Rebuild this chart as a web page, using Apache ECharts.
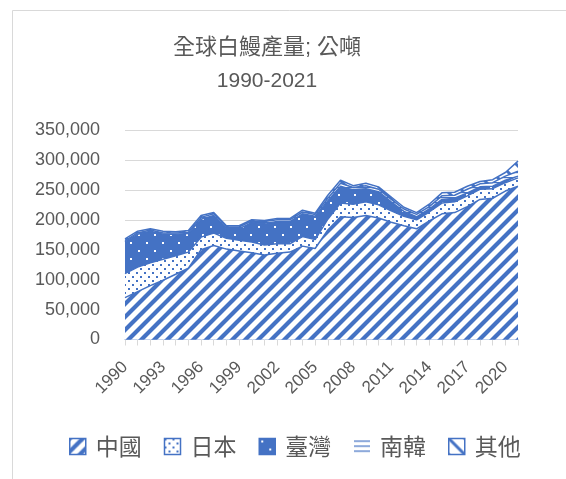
<!DOCTYPE html>
<html>
<head>
<meta charset="utf-8">
<script src="https://cdn.jsdelivr.net/npm/echarts@6/dist/echarts.min.js"></script>
<style>
  html, body { margin: 0; padding: 0; background: #fff; }
  #container { width: 566px; height: 479px; }
</style>
</head>
<body>
<div id="container"></div>
<script>
// 年份
var years = ['1990','1991','1992','1993','1994','1995','1996','1997','1998','1999',
  '2000','2001','2002','2003','2004','2005','2006','2007','2008','2009',
  '2010','2011','2012','2013','2014','2015','2016','2017','2018','2019','2020','2021'];

// 各國產量 (公噸)
var china = [70000,80000,90000,99000,109000,119000,150000,157000,151000,148000,
  145000,141000,144000,146000,156000,152000,183000,205000,204000,207000,
  203000,196000,190000,185000,198000,210000,212000,222000,234000,236000,248000,256000];
var japan = [40000,41000,38000,35000,31000,27000,21000,21000,18000,18000,
  18000,17000,16000,14000,16000,15000,18000,23000,22000,23000,
  22000,19000,16000,15000,15000,18000,18000,18000,17000,16000,14000,14000];
var taiwan = [53000,55000,53000,42000,36000,31000,30000,29000,16000,19000,
  32000,36000,37000,37000,38000,39000,31000,28000,24000,22000,
  22000,15000,8000,5000,5000,6000,6000,5000,4000,4000,4000,3000];
var korea = [2000,2000,2000,2000,2000,2000,3000,3000,3000,3000,
  3000,3000,3000,3000,3000,3000,4000,5000,4000,5000,
  4000,4000,4000,4000,4000,6000,5000,6000,5000,6000,7000,8000];
var other = [3000,3000,2000,3000,2000,3000,3000,2000,2000,2000,
  2000,2000,2000,2000,3000,2000,5000,5000,3000,4000,
  4000,4000,3000,3000,4000,5000,5000,5000,4000,5000,6000,17000];

var names = ['中國', '日本', '臺灣', '南韓', '其他'];
var BLUE = '#4472C4';

// 用 canvas 畫填充圖樣
function makePattern(size, bg, draw) {
    var c = document.createElement('canvas');
    c.width = size;
    c.height = size;
    var ctx = c.getContext('2d');
    ctx.fillStyle = bg;
    ctx.fillRect(0, 0, size, size);
    ctx.fillStyle = BLUE;
    ctx.strokeStyle = BLUE;
    draw(ctx, size);
    return { image: c, repeat: 'repeat' };
}

function diagUp(ctx, s, w) {
    ctx.lineWidth = w;
    ctx.beginPath();
    ctx.moveTo(-s, s); ctx.lineTo(s, -s);
    ctx.moveTo(0, s); ctx.lineTo(s, 0);
    ctx.moveTo(0, 2 * s); ctx.lineTo(2 * s, 0);
    ctx.stroke();
}
function diagDown(ctx, s, w) {
    ctx.lineWidth = w;
    ctx.beginPath();
    ctx.moveTo(-s, 0); ctx.lineTo(s, 2 * s);
    ctx.moveTo(0, 0); ctx.lineTo(s, s);
    ctx.moveTo(0, -s); ctx.lineTo(2 * s, s);
    ctx.stroke();
}

var patterns = [
    // 中國: 寬斜線
    makePattern(13, '#fff', function (ctx, s) { diagUp(ctx, s, 4.2); }),
    // 日本: 小點
    makePattern(8, '#fff', function (ctx, s) {
        ctx.fillRect(0, 0, 2, 2);
        ctx.fillRect(4, 4, 2, 2);
    }),
    // 臺灣: 藍底白點
    makePattern(16, BLUE, function (ctx, s) {
        ctx.fillStyle = '#fff';
        ctx.fillRect(2, 2, 2, 2);
        ctx.fillRect(10, 10, 2, 2);
    }),
    // 南韓: 橫線
    makePattern(5, '#fff', function (ctx, s) {
        ctx.fillRect(0, 2, s, 1.2);
    }),
    // 其他: 反斜線
    makePattern(16, '#fff', function (ctx, s) { diagDown(ctx, s, 3); })
];

var values = [china, japan, taiwan, korea, other];

var dom = document.getElementById('container');
var myChart = echarts.init(dom, null, { renderer: 'canvas' });

var series = names.map(function (name, i) {
    return {
        name: name,
        type: 'line',
        stack: 'total',
        data: values[i],
        showSymbol: false,
        symbol: 'none',
        silent: true,
        itemStyle: { color: BLUE },
        lineStyle: { color: BLUE, width: 1.5 },
        areaStyle: { color: patterns[i], opacity: 1 },
        emphasis: { disabled: true }
    };
});

var option = {
    animation: false,
    backgroundColor: '#fff',
    textStyle: { fontFamily: 'Liberation Sans, Noto Sans CJK TC, sans-serif' },
    graphic: [
        {
            type: 'rect',
            silent: true,
            shape: { x: 12.5, y: 10.5, width: 700, height: 700 },
            style: { fill: 'none', stroke: '#d9d9d9', lineWidth: 1 }
        },
        {
            type: 'text',
            silent: true,
            x: 267,
            y: 48,
            style: {
                text: '全球白鰻產量; 公噸',
                fill: '#595959',
                font: '22px "Liberation Sans", "Noto Sans CJK TC"',
                textAlign: 'center',
                textVerticalAlign: 'middle'
            }
        },
        {
            type: 'text',
            silent: true,
            x: 267,
            y: 81,
            style: {
                text: '1990-2021',
                fill: '#595959',
                font: '21px "Liberation Sans", "Noto Sans CJK TC"',
                textAlign: 'center',
                textVerticalAlign: 'middle'
            }
        }
    ],
    grid: { left: 125, right: 48, top: 130, bottom: 139.5, containLabel: false },
    legend: {
        left: 64,
        top: 430,
        icon: 'rect',
        itemWidth: 16,
        itemHeight: 16,
        itemGap: 22,
        textStyle: {
            color: '#595959',
            fontSize: 23,
            fontFamily: 'Noto Sans CJK TC',
            padding: [0, 0, 0, 5]
        },
        data: names.map(function (name, i) {
            return {
                name: name,
                itemStyle: {
                    color: patterns[i],
                    borderColor: i === 3 ? 'transparent' : BLUE,
                    borderWidth: 1.5
                }
            };
        })
    },
    xAxis: {
        type: 'category',
        boundaryGap: false,
        data: years,
        axisLine: { lineStyle: { color: '#8eaadb', width: 1 } },
        axisTick: { show: true, interval: 0, length: 6, lineStyle: { color: '#d9d9d9' } },
        axisLabel: {
            interval: 2,
            rotate: 45,
            margin: 25,
            color: '#595959',
            fontSize: 17
        },
        splitLine: { show: false }
    },
    yAxis: {
        type: 'value',
        min: 0,
        max: 350000,
        interval: 50000,
        axisLine: { show: false },
        axisTick: { show: false },
        axisLabel: {
            margin: 25,
            color: '#595959',
            fontSize: 18,
            formatter: function (v) { return v.toLocaleString('en-US'); }
        },
        splitLine: { lineStyle: { color: '#d9d9d9', width: 1 } }
    },
    series: series
};

myChart.setOption(option);
window.addEventListener('resize', myChart.resize);
</script>
</body>
</html>
